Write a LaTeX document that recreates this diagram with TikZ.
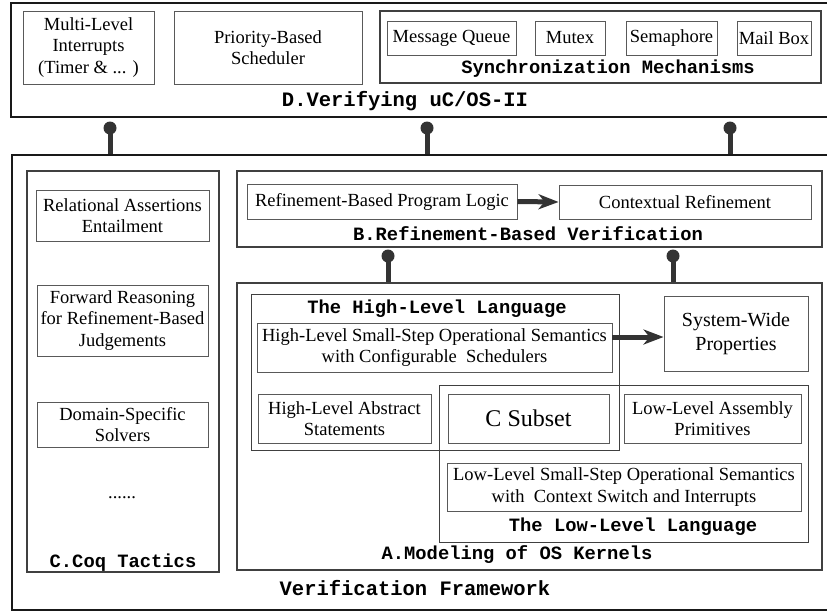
\documentclass[tikz,border=0pt]{standalone}
\usepackage{fontspec}
\setmainfont{Liberation Serif}
\setmonofont{Liberation Mono}
\usepackage{xcolor}
\usetikzlibrary{arrows.meta}

\begin{document}
\begin{tikzpicture}[
        x=1pt, y=-1pt,
        outer/.style={draw=black!90, line width=2pt, inner sep=0pt},
        section/.style={draw=black!75, line width=1.2pt, inner sep=0pt},
        item/.style={draw=black!65, line width=0.9pt, inner sep=0pt, align=center, font=\fontsize{18.5}{21.5}\selectfont},
        heading/.style={font=\fontsize{18.8}{22}\selectfont\ttfamily\bfseries},
        bigheading/.style={font=\fontsize{20.5}{24}\selectfont\ttfamily\bfseries},
        stem/.style={line width=5pt, draw=black!80},
        flow/.style={line width=5pt, draw=black!80, -{Stealth[length=20pt, width=15pt, inset=6pt]}}
    ]
    \useasboundingbox (0,0) rectangle (827,611);

    % D : vérification de uC/OS-II
    \node[outer, minimum width=824pt, minimum height=114pt] (osbox) at (423,60) {};
    \node[item, minimum width=131pt, minimum height=73pt] (irq) at (88.5,47.5) {Multi-Level\\Interrupts\\(Timer \& ... )};
    \node[item, minimum width=188pt, minimum height=73pt] (sched) at (268,47.5) {Priority-Based\\Scheduler};
    \node[section, minimum width=441pt, minimum height=72pt] (sync) at (600.5,47) {};
    \node[item, minimum width=129pt, minimum height=34pt] (queue) at (451.5,38) {Message Queue};
    \node[item, minimum width=70pt, minimum height=34pt] (mutex) at (570,38) {Mutex};
    \node[item, minimum width=91pt, minimum height=34pt] (sema) at (671.5,38) {Semaphore};
    \node[item, minimum width=74pt, minimum height=34pt] (mbox) at (774,38) {Mail Box};
    \node[heading] (synctxt) at (608,69) {Synchronization Mechanisms};
    \node[bigheading] (ostxt) at (405,101) {D.Verifying uC/OS-II};

    % Cadre de vérification
    \node[outer, minimum width=823pt, minimum height=455pt] (frame) at (423.5,382.5) {};
    \node[bigheading] (frametxt) at (415,588) {Verification Framework};

    % C : tactiques Coq
    \node[section, minimum width=192pt, minimum height=401pt] (coq) at (123,371.5) {};
    \node[item, minimum width=173pt, minimum height=51pt] (rel) at (122.5,215.5) {Relational Assertions\\Entailment};
    \node[item, minimum width=171pt, minimum height=71pt] (fwd) at (122.5,320.5) {Forward Reasoning\\for Refinement-Based\\Judgements};
    \node[item, minimum width=171pt, minimum height=45pt] (dom) at (122.5,424.5) {Domain-Specific\\Solvers};
    \node[font=\fontsize{18.5}{21.5}\selectfont] (dots) at (122,498) {......};
    \node[heading] (coqtxt) at (123,563) {C.Coq Tactics};

    % B : vérification par raffinement
    \node[section, minimum width=585pt, minimum height=76pt] (refver) at (529.5,209) {};
    \node[item, minimum width=270pt, minimum height=35pt] (logic) at (382,201.5) {Refinement-Based Program Logic};
    \node[item, minimum width=252pt, minimum height=34pt] (ctx) at (685,202) {Contextual Refinement};
    \node[heading] (refvertxt) at (528,234) {B.Refinement-Based Verification};

    % A : modélisation des noyaux
    \node[section, minimum width=585pt, minimum height=287pt] (model) at (529.5,426.5) {};
    \node[section, line width=0.9pt, minimum width=368pt, minimum height=156pt] (hll) at (435,372) {};
    \node[section, line width=0.9pt, minimum width=369pt, minimum height=157pt] (lll) at (623.5,463.5) {};
    \node[heading] (hlltxt) at (437,309) {The High-Level Language};
    \node[item, minimum width=355pt, minimum height=49pt] (hlsem) at (434.5,347.5) {High-Level Small-Step Operational Semantics\\with Configurable\ \ Schedulers};
    \node[item, minimum width=173pt, minimum height=49pt] (hlabs) at (344.5,418.5) {High-Level Abstract\\Statements};
    \node[item, minimum width=161pt, minimum height=49pt, font=\fontsize{24}{28}\selectfont] (csub) at (528.5,418.5) {C Subset};
    \node[item, minimum width=177pt, minimum height=49pt] (asm) at (712.5,418.5) {Low-Level Assembly\\Primitives};
    \node[item, minimum width=144pt, minimum height=75pt, font=\fontsize{20}{24}\selectfont] (sysw) at (736,333.5) {System-Wide\\Properties};
    \node[item, minimum width=354pt, minimum height=48pt] (llsem) at (624,487) {Low-Level Small-Step Operational Semantics\\with\ \ Context Switch and Interrupts};
    \node[heading] (llltxt) at (633,527) {The Low-Level Language};
    \node[heading] (modeltxt) at (517,555) {A.Modeling of OS Kernels};

    % Flèches
    \draw[flow] (logic.east) -- (ctx.west);
    \draw[flow] ([yshift=10.5pt]hlsem.east) -- ([yshift=-3.5pt]sysw.west);

    % Liaisons entre les couches
    \coordinate (p1) at (110,128);
    \coordinate (p2) at (427,128);
    \coordinate (p3) at (730,128);
    \coordinate (q1) at (388,256);
    \coordinate (q2) at (673,256);
    \foreach \p in {p1,p2,p3} {
        \draw[stem] (\p) -- (\p |- frame.north);
        \fill[black!80] (\p) circle (6.5pt);
    }
    \foreach \q in {q1,q2} {
        \draw[stem] (\q) -- (\q |- model.north);
        \fill[black!80] (\q) circle (6.5pt);
    }
\end{tikzpicture}
\end{document}
